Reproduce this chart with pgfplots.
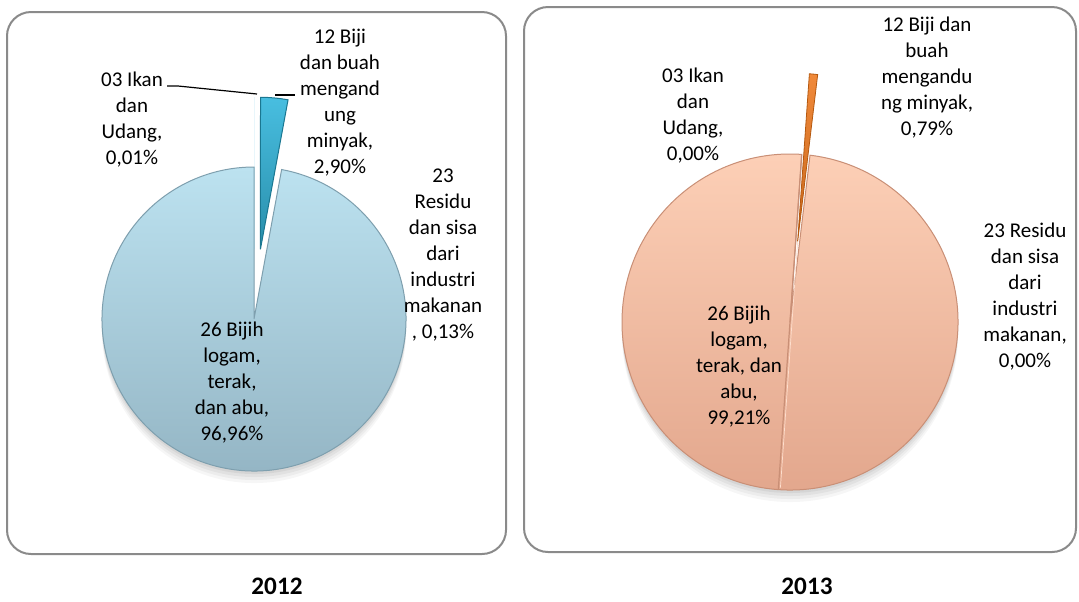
\documentclass[border=0pt]{standalone}
\usepackage{pgfplots}
\pgfplotsset{compat=1.18}
\usepackage{pgfplotstable}
\usepackage{fontspec}
\setmainfont{Carlito}

\definecolor{kotak}{HTML}{8A8A8A}
\definecolor{biruatas}{HTML}{BCE2F0}
\definecolor{birubawah}{HTML}{93B4C3}
\definecolor{birutepi}{HTML}{7E9FAE}
\definecolor{tosca}{HTML}{48BEE0}
\definecolor{toscagelap}{HTML}{1A7791}
\definecolor{persikatas}{HTML}{FDD0B7}
\definecolor{persikbawah}{HTML}{E2A68C}
\definecolor{persiktepi}{HTML}{C98F76}
\definecolor{oranye}{HTML}{F0893A}
\definecolor{oranyegelap}{HTML}{B5580E}

% share of each group (percent), Excel order, clockwise from 12 o'clock
\pgfplotstableread{
kode share
03 0.01
12 2.90
23 0.13
26 96.96
}\tahunA
\pgfplotstableread{
kode share
03 0.00
12 0.79
23 0.00
26 99.21
}\tahunB

\newcommand{\lab}{\fontsize{10.5bp}{13bp}\selectfont}
\newcommand{\judul}{\fontsize{12.6bp}{15bp}\selectfont\bfseries}

% #1,#2 centre (axis), #3 rotation (deg), #4 start %, #5 end %, #6 radius, #7 explode, #8 style
\newcommand{\irisan}[8]{%
  \path[#8] (axis cs:#1,#2) ++({90-#3-1.8*(#4+#5)}:#7) -- ++({90-#3-3.6*#4}:#6)
    arc[start angle={90-#3-3.6*#4}, end angle={90-#3-3.6*#5}, radius=#6] -- cycle;}

% soft shadow under the big slice, falling downwards
\newcommand{\bayangan}[6]{%
  \irisan{#1}{#2+3}{#3}{#4}{#5}{#6}{0bp}{fill=black, opacity=0.05}
  \irisan{#1}{#2+6}{#3}{#4}{#5}{#6}{0bp}{fill=black, opacity=0.045}
  \irisan{#1}{#2+9}{#3}{#4}{#5}{#6}{0bp}{fill=black, opacity=0.04}
  \irisan{#1}{#2+12}{#3}{#4}{#5}{#6}{0bp}{fill=black, opacity=0.035}}

\begin{document}
\begin{tikzpicture}
\pgfplotstablegetelem{0}{share}\of\tahunA \let\aIkan\pgfplotsretval
\pgfplotstablegetelem{1}{share}\of\tahunA \let\aBiji\pgfplotsretval
\pgfplotstablegetelem{2}{share}\of\tahunA \let\aResidu\pgfplotsretval
\pgfplotstablegetelem{3}{share}\of\tahunA \let\aBijih\pgfplotsretval
\pgfplotstablegetelem{0}{share}\of\tahunB \let\bIkan\pgfplotsretval
\pgfplotstablegetelem{1}{share}\of\tahunB \let\bBiji\pgfplotsretval
\pgfplotstablegetelem{2}{share}\of\tahunB \let\bResidu\pgfplotsretval
\pgfplotstablegetelem{3}{share}\of\tahunB \let\bBijih\pgfplotsretval
\pgfmathsetmacro\aS{\aIkan}
\pgfmathsetmacro\aT{\aS+\aBiji}
\pgfmathsetmacro\aU{\aT+\aResidu}
\pgfmathsetmacro\aV{\aU+\aBijih}
\pgfmathsetmacro\bS{\bIkan}
\pgfmathsetmacro\bT{\bS+\bBiji}
\pgfmathsetmacro\bU{\bT+\bResidu}
\pgfmathsetmacro\bV{\bU+\bBijih}
\begin{axis}[
    x=0.5bp, y=0.5bp,
    xmin=0, xmax=1079,
    ymin=0, ymax=599,
    y dir=reverse,
    hide axis,
    clip=false
]
\fill[white] (axis cs:0,0) rectangle (axis cs:1079,599);

% frames
\draw[kotak, line width=1bp, rounded corners=12bp] (axis cs:7,12) rectangle (axis cs:506,554);
\draw[kotak, line width=1bp, rounded corners=12bp] (axis cs:524,7) rectangle (axis cs:1076,552);

% ---- 2012 ----
\bayangan{254}{319}{0}{\aT}{\aV}{76bp}
\irisan{254}{319}{0}{\aT}{\aV}{76bp}{0bp}{top color=biruatas, bottom color=birubawah, draw=birutepi, line width=0.5bp}
\irisan{254}{319}{0}{0}{\aS}{76bp}{35bp}{fill=tosca}
\irisan{254}{319}{0}{\aS}{\aT}{76bp}{35bp}{top color=tosca, bottom color=toscagelap, draw=toscagelap, line width=0.5bp}
\draw[black, line width=0.6bp] (axis cs:167,86) -- (axis cs:178,86) -- (axis cs:257,94);
\draw[black, line width=0.6bp] (axis cs:275,95) -- (axis cs:295,95);

\node[align=center, font=\lab] at (axis cs:132,120) {03 Ikan\\dan\\Udang,\\0,01\%};
\node[align=center, font=\lab] at (axis cs:340,103) {12 Biji\\dan buah\\mengand\\ung\\minyak,\\2,90\%};
\node[align=center, font=\lab] at (axis cs:443,255) {23\\Residu\\dan sisa\\dari\\industri\\makanan\\, 0,13\%};
\node[align=center, font=\lab] at (axis cs:232,383) {26 Bijih\\logam,\\terak,\\dan abu,\\96,96\%};
\node[font=\judul] at (axis cs:277,586) {2012};

% ---- 2013 ----
\bayangan{790}{322}{4}{\bT}{\bV}{84bp}
\irisan{790}{322}{4}{\bT}{\bV}{84bp}{0bp}{top color=persikatas, bottom color=persikbawah, draw=persiktepi, line width=0.5bp}
\draw[persikatas!70!white, line width=0.35bp] (axis cs:792,322) ++(86:83bp) -- ++(266:166bp);
\draw[persiktepi, line width=0.6bp] (axis cs:790,322) ++(86:84bp) -- ++(266:168bp);
\irisan{790}{322}{4}{\bS}{\bT}{84bp}{40.5bp}{top color=oranye, bottom color=oranyegelap, draw=oranyegelap, line width=0.4bp}

\node[align=center, font=\lab] at (axis cs:693,116) {03 Ikan\\dan\\Udang,\\0,00\%};
\node[align=center, font=\lab] at (axis cs:927,78) {12 Biji dan\\buah\\mengandu\\ng minyak,\\0,79\%};
\node[align=center, font=\lab] at (axis cs:1025,297) {23 Residu\\dan sisa\\dari\\industri\\makanan,\\0,00\%};
\node[align=center, font=\lab] at (axis cs:739,367) {26 Bijih\\logam,\\terak, dan\\abu,\\99,21\%};
\node[font=\judul] at (axis cs:807,586) {2013};
\end{axis}
\end{tikzpicture}
\end{document}
